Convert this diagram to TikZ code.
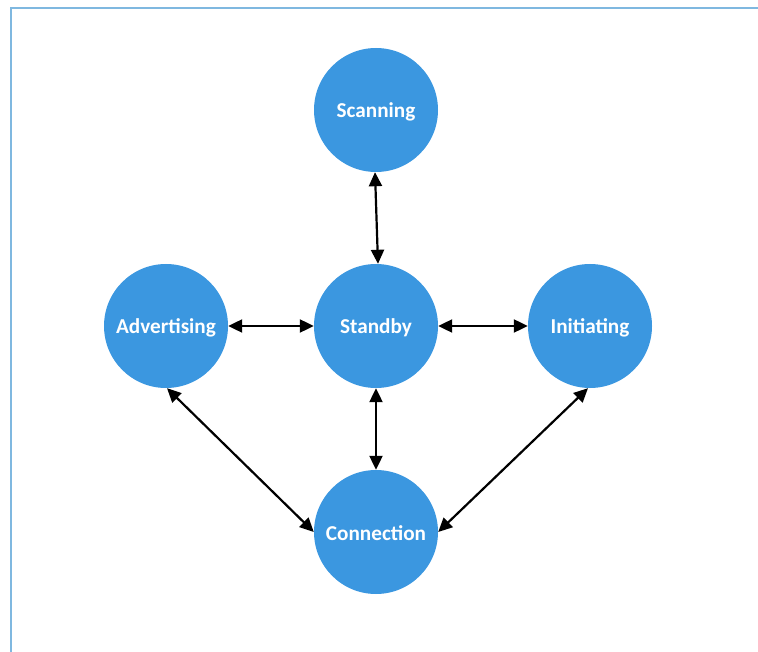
\documentclass[tikz,border=0pt]{standalone}
\usepackage{fontspec}
\setmainfont{Carlito}
\usetikzlibrary{arrows.meta}
\definecolor{circblue}{HTML}{3B97E0}
\definecolor{framblue}{HTML}{7FB8E0}
\tikzset{
  state/.style={circle, fill=circblue, draw=none, minimum size=124pt, inner sep=0pt},
  statelabel/.style={text=white, font=\fontsize{21.2}{24}\selectfont\bfseries, inner sep=0pt},
  link/.style={line width=2.2pt, draw=black, {Triangle[length=14pt,width=13pt]}-{Triangle[length=14pt,width=13pt]}},
  frame/.style={line width=2.8pt, draw=framblue}
}
\begin{document}
\begin{tikzpicture}[x=1pt,y=-1pt]
\useasboundingbox (0,0) rectangle (758,652);
\coordinate (tl) at (11,8);
\coordinate (tr) at (758,8);
\coordinate (bl) at (11,652);
\draw[frame] (tr) -- (tl) -- (bl);
\node[state] (scan) at (376,110) {};
\node[state] (stby) at (376,326) {};
\node[state] (adv) at (166,326) {};
\node[state] (init) at (590,326) {};
\node[state] (conn) at (376,532) {};
\node[statelabel] (scanl) at ([yshift=-1.5pt]scan.center) {Scanning};
\node[statelabel] (stbyl) at ([yshift=-1.5pt]stby.center) {Standby};
\node[statelabel] (advl) at ([yshift=-1.5pt]adv.center) {Advertising};
\node[statelabel] (initl) at ([yshift=-1.5pt]init.center) {Initiating};
\node[statelabel] (connl) at ([yshift=-1.5pt]conn.center) {Connection};
\draw[link] ([xshift=-1pt]scan.south) -- ([xshift=2pt]stby.north);
\draw[link] (stby.south) -- (conn.north);
\draw[link] (adv.east) -- (stby.west);
\draw[link] (stby.east) -- (init.west);
\draw[link] ([xshift=1pt]adv.south) -- (conn.west);
\draw[link] ([xshift=-2pt]init.south) -- (conn.east);
\end{tikzpicture}
\end{document}
